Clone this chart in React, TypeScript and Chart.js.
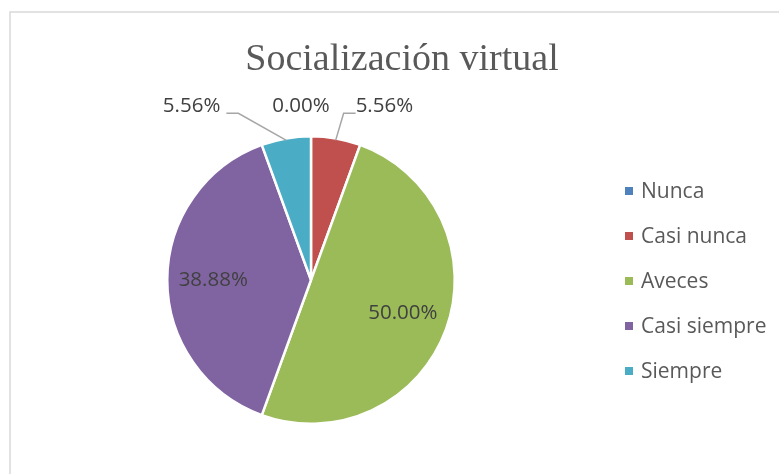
import React, { useEffect, useRef } from "react";
import { Chart, registerables } from "chart.js";

Chart.register(...registerables);

const chartTitle = "Socialización virtual";
const categories = ["Nunca", "Casi nunca", "Aveces", "Casi siempre", "Siempre"];
const values = [0, 5.56, 50.0, 38.88, 5.56];
const valueLabels = ["0.00%", "5.56%", "50.00%", "38.88%", "5.56%"];
const colors = ["#4F81BD", "#C0504D", "#9BBB59", "#8064A2", "#4BACC6"];

const W = 779;
const H = 474;
const FONT = "'Open Sans', 'Noto Sans', sans-serif";

const decorPlugin = {
  id: "decor",
  beforeDraw(chart: any) {
    const ctx = chart.ctx;
    ctx.save();
    ctx.fillStyle = "#ffffff";
    ctx.fillRect(0, 0, W, H);
    ctx.strokeStyle = "#d9d9d9";
    ctx.lineWidth = 1.5;
    ctx.beginPath();
    ctx.moveTo(10, H + 10);
    ctx.lineTo(10, 12);
    ctx.lineTo(W + 10, 12);
    ctx.stroke();
    // title
    ctx.fillStyle = "#595959";
    ctx.font = `38px 'Liberation Serif', 'Times New Roman', serif`;
    ctx.textAlign = "center";
    ctx.textBaseline = "alphabetic";
    ctx.fillText(chartTitle, 402, 70);
    ctx.restore();
  },
  afterDraw(chart: any) {
    const ctx = chart.ctx;
    ctx.save();
    // legend
    ctx.font = `21px ${FONT}`;
    ctx.textBaseline = "middle";
    ctx.textAlign = "left";
    categories.forEach((c, i) => {
      const y = 191 + i * 45;
      ctx.fillStyle = colors[i];
      ctx.fillRect(625, y - 4, 8, 8);
      ctx.fillStyle = "#595959";
      ctx.fillText(c, 641, y + 1);
    });

    // data labels
    const meta = chart.getDatasetMeta(0);
    ctx.font = `20.5px ${FONT}`;
    ctx.fillStyle = "#404040";
    ctx.strokeStyle = "#a6a6a6";
    ctx.lineWidth = 1.5;
    meta.data.forEach((arc: any, i: number) => {
      const { x, y, startAngle, endAngle, outerRadius } = arc.getProps(
        ["x", "y", "startAngle", "endAngle", "outerRadius"],
        true
      );
      const mid = (startAngle + endAngle) / 2;
      const txt = valueLabels[i];
      if (values[i] >= 20) {
        const d = outerRadius * 0.68;
        ctx.textAlign = "center";
        ctx.textBaseline = "middle";
        ctx.fillText(txt, x + Math.cos(mid) * d, y + Math.sin(mid) * d);
        return;
      }
      const ly = y - outerRadius - 30;
      const ax = x + Math.cos(mid) * (outerRadius - 2);
      const ay = y + Math.sin(mid) * (outerRadius - 2);
      ctx.textBaseline = "middle";
      if (values[i] === 0) {
        ctx.textAlign = "center";
        ctx.fillText(txt, x - 10, ly);
        return;
      }
      if (Math.cos(mid) >= 0) {
        const kx = ax + 8;
        const ky = ly + 7;
        ctx.beginPath();
        ctx.moveTo(ax, ay);
        ctx.lineTo(kx, ky);
        ctx.lineTo(kx + 12, ky);
        ctx.stroke();
        ctx.textAlign = "left";
        ctx.fillText(txt, kx + 12, ly);
      } else {
        const kx = ax - 48;
        const ky = ly + 7;
        ctx.beginPath();
        ctx.moveTo(ax, ay);
        ctx.lineTo(kx, ky);
        ctx.lineTo(kx - 12, ky);
        ctx.stroke();
        ctx.textAlign = "right";
        ctx.fillText(txt, kx - 18, ly);
      }
    });
    ctx.restore();
  },
};

export default function App() {
  const ref = useRef<HTMLCanvasElement>(null);
  useEffect(() => {
    if (!ref.current) return;
    const chart = new Chart(ref.current, {
      type: "pie",
      data: {
        labels: categories,
        datasets: [
          {
            data: values,
            backgroundColor: colors,
            borderColor: "#ffffff",
            borderWidth: 2.5,
            hoverOffset: 0,
          },
        ],
      },
      options: {
        responsive: false,
        animation: false,
        devicePixelRatio: 1,
        layout: { padding: { left: 166, right: W - 456, top: 135, bottom: H - 425 } },
        plugins: {
          legend: { display: false },
          title: { display: false },
          tooltip: { enabled: false },
        },
      },
      plugins: [decorPlugin],
    });
    return () => chart.destroy();
  }, []);
  return (
    <div style={{ position: "absolute", left: 0, top: 0, width: W, height: H, overflow: "hidden" }}>
      <canvas ref={ref} width={W} height={H} style={{ display: "block" }} />
    </div>
  );
}
